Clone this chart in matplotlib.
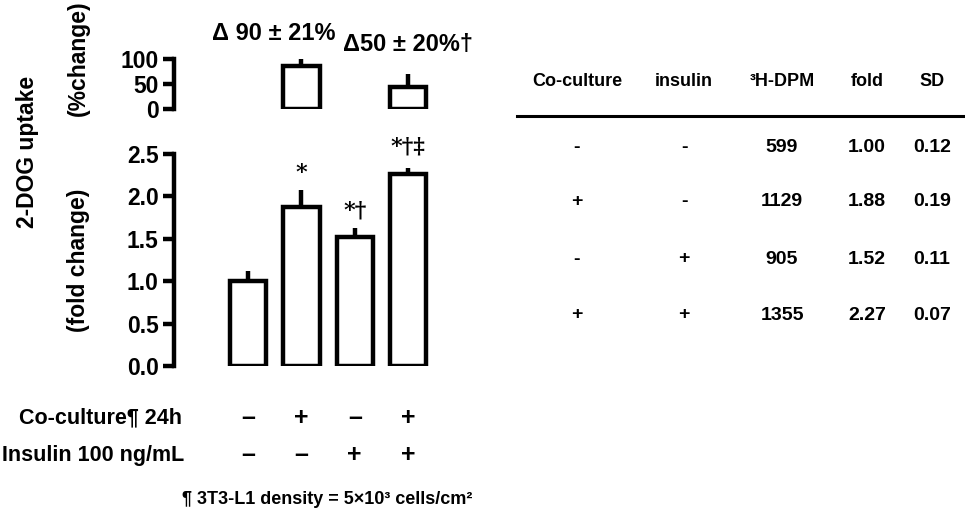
import matplotlib
matplotlib.use("Agg")
import matplotlib.pyplot as plt

plt.rcParams['font.family'] = ['Liberation Sans', 'DejaVu Sans']
plt.rcParams['font.weight'] = 'bold'

# data
groups = ['ctrl', 'co', 'ins', 'co+ins']
fold = [1.00, 1.88, 1.52, 2.27]
fold_sd = [0.12, 0.19, 0.11, 0.07]
sig = ['', '*', '*\u2020', '*\u2020\u2021']
pct_idx = [1, 3]
pct = [86, 45]
pct_err = [17, 26]
pct_labels = ['\u0394 90 \u00b1 21%', '\u039450 \u00b1 20%\u2020']
coculture = ['\u2013', '+', '\u2013', '+']
insulin = ['\u2013', '\u2013', '+', '+']

tbl_header = ['Co-culture', 'insulin', '\u00b3H-DPM', 'fold', 'SD']
tbl_co = ['-', '+', '-', '+']
tbl_ins = ['-', '-', '+', '+']
tbl_dpm = ['599', '1129', '905', '1355']
tbl_fold = ['1.00', '1.88', '1.52', '2.27']
tbl_sd = ['0.12', '0.19', '0.11', '0.07']

W, H = 965, 514
fig = plt.figure(figsize=(W / 100, H / 100), dpi=100)


def fx(x):
    return x / W


def fy(y):
    return 1 - y / H


x = list(range(len(groups)))
xl, xr = -1.39, 3.45
ax_left, ax_right = 174, 432

# lower panel
ax = fig.add_axes([fx(ax_left), fy(366), fx(ax_right - ax_left), (366 - 154) / H])
ax.errorbar(x, fold, yerr=[[0] * 4, fold_sd], fmt='none', ecolor='black',
            elinewidth=3.2, capsize=0, zorder=1)
ax.bar(x, fold, width=0.68, color='white', edgecolor='black', linewidth=3.2, zorder=2)
sig_off = [0, 0.08, 0.07, 0.12]
for i in range(len(x)):
    if sig[i]:
        ax.text(x[i], fold[i] + fold_sd[i] + sig_off[i], sig[i], ha='center', va='bottom',
                fontsize=16, fontweight='bold', family='DejaVu Serif')
ax.set_xlim(xl, xr)
ax.set_ylim(0, 2.5)
ax.set_yticks([0, 0.5, 1.0, 1.5, 2.0, 2.5])
ax.set_yticklabels(['%.1f' % v for v in [0, 0.5, 1.0, 1.5, 2.0, 2.5]])
for s in ['top', 'right', 'bottom']:
    ax.spines[s].set_visible(False)
ax.spines['left'].set_linewidth(3.2)
ax.tick_params(axis='y', width=3.2, length=8, labelsize=16.5, pad=3)
ax.set_xticks([])
ax.patch.set_alpha(0)

# upper panel
ax2 = fig.add_axes([fx(ax_left), fy(109), fx(ax_right - ax_left), 50 / H])
px = [x[i] for i in pct_idx]
ax2.errorbar(px, pct, yerr=[[0] * 2, pct_err], fmt='none', ecolor='black',
             elinewidth=3.2, capsize=0, zorder=1)
ax2.bar(px, pct, width=0.68, color='white', edgecolor='black', linewidth=3.2, zorder=2)
ax2.set_xlim(xl, xr)
ax2.set_ylim(0, 100)
ax2.set_yticks([0, 50, 100])
for s in ['top', 'right', 'bottom']:
    ax2.spines[s].set_visible(False)
ax2.spines['left'].set_linewidth(3.2)
ax2.tick_params(axis='y', width=3.2, length=8, labelsize=16.5, pad=3)
ax2.set_xticks([])
ax2.patch.set_alpha(0)
ax2.text(x[1] - 0.52, 152, pct_labels[0], ha='center', va='center', fontsize=17,
         clip_on=False)
ax2.text(x[3], 128, pct_labels[1], ha='center', va='center', fontsize=17,
         clip_on=False)

# axis labels
fig.text(fx(28), fy(152), '2-DOG uptake', rotation=90, ha='center', va='center', fontsize=16.5)
fig.text(fx(78), fy(58), '(%change)', rotation=90, ha='center', va='center', fontsize=16.5)
fig.text(fx(78), fy(260), '(fold change)', rotation=90, ha='center', va='center', fontsize=16.5)

# treatment rows
fig.text(fx(182), fy(418), 'Co-culture\u00b6 24h', ha='right', va='center', fontsize=15.5)
fig.text(fx(184), fy(455), 'Insulin 100 ng/mL', ha='right', va='center', fontsize=15.5)
for i in range(len(x)):
    xpix = ax.transData.transform((x[i], 0))[0]
    fig.text(xpix / W, fy(418), coculture[i], ha='center', va='center', fontsize=18)
    fig.text(xpix / W, fy(455), insulin[i], ha='center', va='center', fontsize=18)
fig.text(fx(327), fy(500), '\u00b6 3T3-L1 density = 5\u00d710\u00b3 cells/cm\u00b2',
         ha='center', va='center', fontsize=13)

# table
col_x = [577, 684, 782, 867, 932]
row_y = [147, 202, 259, 315]
for cx, h in zip(col_x, tbl_header):
    fig.text(fx(cx), fy(81), h, ha='center', va='center', fontsize=13)
fig.add_artist(plt.Line2D([fx(517), fx(965)], [fy(116), fy(116)], color='black', lw=2.2))
cols = [tbl_co, tbl_ins, tbl_dpm, tbl_fold, tbl_sd]
for cx, col in zip(col_x, cols):
    for ry, v in zip(row_y, col):
        fig.text(fx(cx), fy(ry), v, ha='center', va='center', fontsize=14)

fig.savefig('out.png', dpi=100)
